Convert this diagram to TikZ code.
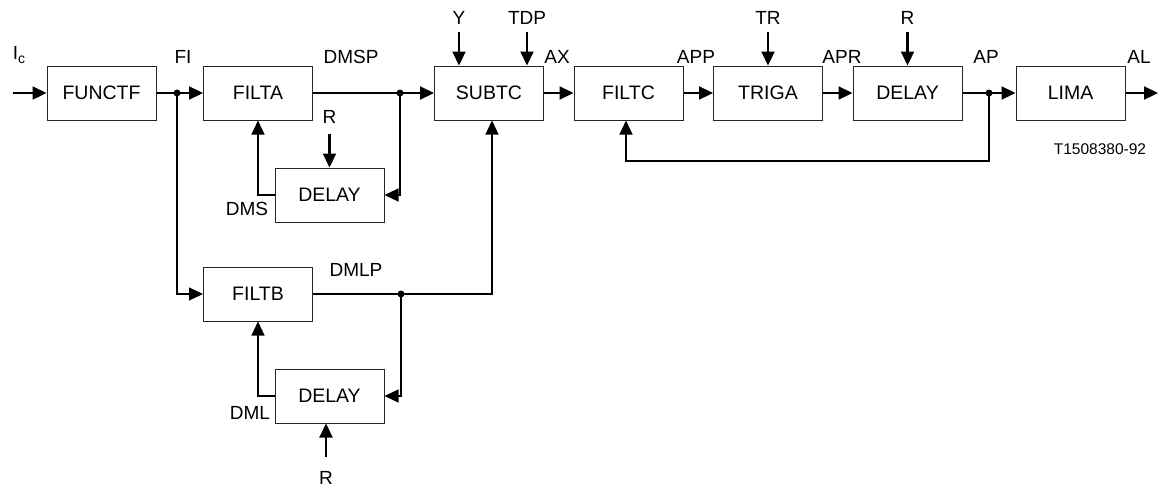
\documentclass[tikz,border=0pt]{standalone}
\usepackage{fontspec}
\setmainfont{Liberation Sans}
\usetikzlibrary{arrows.meta}
\begin{document}
\begin{tikzpicture}[x=1pt,y=-1pt,
  box/.style={draw=black!85,line width=1pt,minimum width=109pt,minimum height=54pt,inner sep=0pt,font=\fontsize{19.5pt}{21pt}\selectfont},
  lbl/.style={inner sep=0pt,font=\fontsize{19pt}{21pt}\selectfont},
  thk/.style={line width=2.2pt},
  thn/.style={line width=1.1pt},
  arr/.style={-{Triangle[length=14pt,width=13pt]}},
  jdot/.style={circle,fill=black,inner sep=0pt,minimum size=7pt}]
\useasboundingbox (0,0) rectangle (1162,488);
% boxes
\node[box] (functf) at (101.5,93) {FUNCTF};
\node[box] (filta)  at (258,93)   {FILTA};
\node[box] (subtc)  at (489,93)   {SUBTC};
\node[box] (filtc)  at (628.5,93) {FILTC};
\node[box] (triga)  at (768,93)   {TRIGA};
\node[box] (delay3) at (907.5,93) {DELAY};
\node[box] (lima)   at (1070.5,93) {LIMA};
\node[box] (delay1) at (329.5,195) {DELAY};
\node[box] (filtb)  at (258,294)  {FILTB};
\node[box] (delay2) at (329.5,396) {DELAY};
% junctions and free ends
\coordinate (j1) at (177,93);
\coordinate (j2) at (400,93);
\coordinate (j3) at (401,294);
\coordinate (j4) at (989,93);
\coordinate (ic) at (13,93);
\coordinate (al) at (1158,93);
\coordinate (r1) at (329.5,134);
\coordinate (r2) at (326,457);
\coordinate (yin) at (459,32);
\coordinate (tdp) at (527,32);
\coordinate (trin) at (768,32);
\coordinate (r3) at (907.5,32);
% main path
\draw[thk,arr] (ic) -- (functf.west);
\draw[thk] (functf.east) -- (j1);
\draw[thk,arr] (j1) -- (filta.west);
\draw[thk] (filta.east) -- (j2);
\draw[thk,arr] (j2) -- (subtc.west);
\draw[thk,arr] (subtc.east) -- (filtc.west);
\draw[thk,arr] (filtc.east) -- (triga.west);
\draw[thk,arr] (triga.east) -- (delay3.west);
\draw[thk] (delay3.east) -- (j4);
\draw[thk,arr] (j4) -- (lima.west);
\draw[thk,arr] (lima.east) -- (al);
% branches
\draw[thn,arr] (j1) |- (filtb.west);
\draw[thn,arr] (j2) |- (delay1.east);
\draw[thn,arr] (delay1.west) -| (filta.south);
\draw[thn] (filtb.east) -- (j3);
\draw[thn,arr] (j3) -| ([xshift=3pt]subtc.south);
\draw[thn,arr] (j3) |- (delay2.east);
\draw[thn,arr] (delay2.west) -| (filtb.south);
\draw[thn,arr] (j4) |- (626,161) -- ([xshift=-2.5pt]filtc.south);
% inputs
\draw[thk,arr] (r1) -- (delay1.north);
\draw[thk,arr] (r2) -- ([xshift=-3.5pt]delay2.south);
\draw[thk,arr] (yin) -- ([xshift=-30pt]subtc.north);
\draw[thk,arr] (tdp) -- ([xshift=38pt]subtc.north);
\draw[thk,arr] (trin) -- (triga.north);
\draw[thk,arr] (r3) -- (delay3.north);
% dots
\foreach \j in {j1,j2,j3,j4} \node[jdot] at (\j) {};
% labels
\node[lbl] (tic) at (19,55) {I\raisebox{-0.4ex}{\fontsize{14pt}{14pt}\selectfont c}};
\node[lbl] (tfi) at (183,57) {FI};
\node[lbl] (tdmsp) at (351,57) {DMSP};
\node[lbl] (tr1) at (329.5,117) {R};
\node[lbl] (tdms) at (247,209) {DMS};
\node[lbl] (tdmlp) at (356,270) {DMLP};
\node[lbl] (tdml) at (250,413) {DML};
\node[lbl] (tr2) at (326,478) {R};
\node[lbl] (ty) at (459,18) {Y};
\node[lbl] (ttdp) at (527,18) {TDP};
\node[lbl] (tax) at (557,57) {AX};
\node[lbl] (tapp) at (696,57) {APP};
\node[lbl] (ttr) at (768,18) {TR};
\node[lbl] (tapr) at (842,57) {APR};
\node[lbl] (tr3) at (907.5,18) {R};
\node[lbl] (tap) at (986,57) {AP};
\node[lbl] (tal) at (1139,57) {AL};
\node[inner sep=0pt,font=\fontsize{15.5pt}{17pt}\selectfont] (tid) at (1100,149) {T1508380-92};
\end{tikzpicture}
\end{document}
